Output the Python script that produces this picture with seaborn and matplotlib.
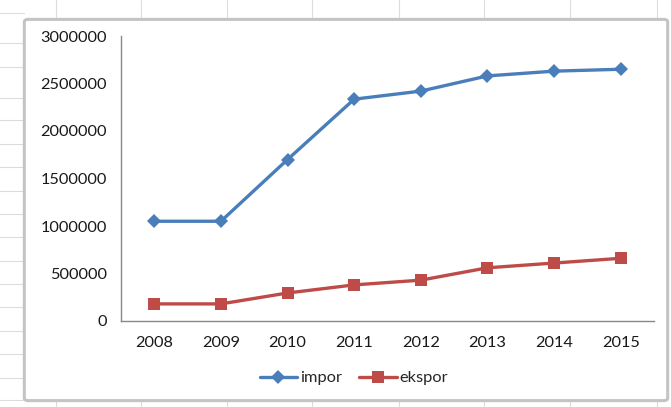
import matplotlib
matplotlib.use("Agg")
import matplotlib.pyplot as plt
import seaborn as sns
import pandas as pd
from matplotlib.patches import FancyBboxPatch
from matplotlib.lines import Line2D

years = ["2008", "2009", "2010", "2011", "2012", "2013", "2014", "2015"]
impor = [1050000, 1050000, 1700000, 2335000, 2420000, 2580000, 2630000, 2650000]
ekspor = [180000, 180000, 295000, 380000, 430000, 560000, 610000, 660000]
yticks = [0, 500000, 1000000, 1500000, 2000000, 2500000, 3000000]

sns.set_theme(style="white")
plt.rcParams["font.family"] = ["Lato", "DejaVu Sans"]

W, H = 671, 407
fig = plt.figure(figsize=(W / 100, H / 100), dpi=100)
fig.patch.set_facecolor("white")

# spreadsheet grid lines behind chart object
for x in [55.6, 141, 227, 312, 399, 484, 570, 657]:
    fig.add_artist(Line2D([x / W, x / W], [1, 1 - 22 / H], color="#dcdcdc", lw=0.8, zorder=0))
    fig.add_artist(Line2D([x / W, x / W], [0, 6 / H], color="#dcdcdc", lw=0.8, zorder=0))
for y in [13, 43, 67, 98, 120, 144, 167, 191, 214, 237, 261, 284, 307, 331, 354, 378, 400]:
    fig.add_artist(Line2D([0, 24 / W], [1 - y / H, 1 - y / H], color="#dcdcdc", lw=0.8, zorder=0))

# chart frame
frame = FancyBboxPatch((27 / W, 8 / H), (665 - 27) / W, (386 - 8) / H,
                       boxstyle="round,pad=0.004,rounding_size=0.006",
                       transform=fig.transFigure, facecolor="white",
                       edgecolor="#c4c4c4", lw=2.2, zorder=1)
fig.add_artist(frame)

ax = fig.add_axes([121 / W, 1 - 321 / H, (654 - 121) / W, (321 - 36) / H], zorder=2)
ax.set_facecolor("none")

df = pd.DataFrame({"year": years, "impor": impor, "ekspor": ekspor})
sns.lineplot(data=df, x="year", y="impor", ax=ax, color="#4A7EBB", marker="D",
             markersize=7.5, markeredgewidth=0, linewidth=2.4, label="impor", sort=False)
sns.lineplot(data=df, x="year", y="ekspor", ax=ax, color="#BE4B48", marker="s",
             markersize=9, markeredgewidth=0, linewidth=2.4, label="ekspor", sort=False)

ax.set_xlim(-0.5, 7.5)
ax.set_ylim(0, 3000000)
ax.set_yticks(yticks)
ax.set_yticklabels([str(v) for v in yticks])
ax.set_xlabel("")
ax.set_ylabel("")
for s in ["top", "right"]:
    ax.spines[s].set_visible(False)
for s in ["left", "bottom"]:
    ax.spines[s].set_color("#888888")
    ax.spines[s].set_linewidth(1.0)
ax.tick_params(axis="both", length=0, labelsize=11.8, colors="#1a1a1a")
ax.tick_params(axis="y", pad=10)
ax.tick_params(axis="x", pad=11)
ax.grid(False)

handles, labels = ax.get_legend_handles_labels()
ax.get_legend().remove()
fig.legend(handles, labels, loc="center", bbox_to_anchor=(354 / W, 1 - 378 / H),
           ncol=2, frameon=False, fontsize=11.8, handlelength=2.3,
           handletextpad=0.2, columnspacing=1.0)

fig.savefig("out.png", dpi=100)
